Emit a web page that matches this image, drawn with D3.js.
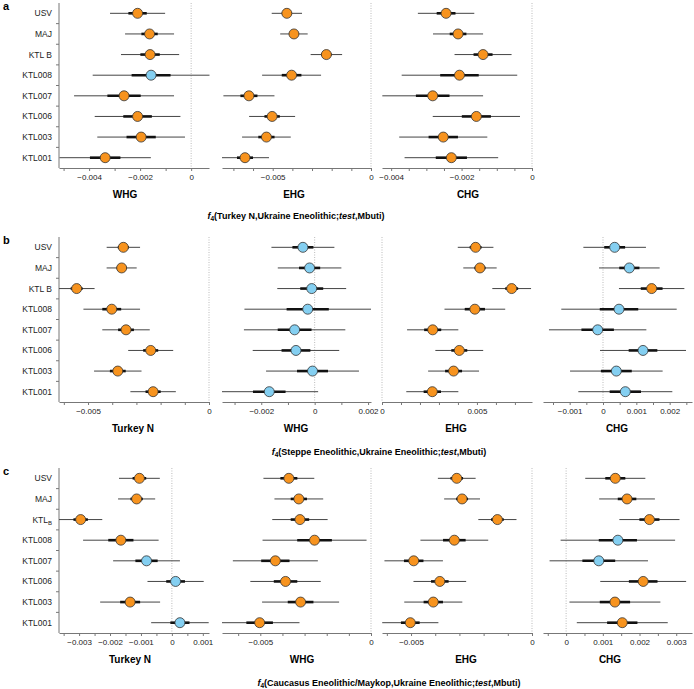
<!DOCTYPE html>
<html>
<head>
<meta charset="utf-8">
<script src="https://cdn.jsdelivr.net/npm/d3@7"></script>
<style>
	body { margin: 0; background: #fff; }
	svg { font-family: 'Liberation Sans', Arial, sans-serif; }
</style>
</head>
<body>
<svg id="chart" width="694" height="689"></svg>
<script>
const svg = d3.select('#chart')
const orange = '#f7931e'
const blue = '#84cff1'
const textColor = '#222'

// data: f4 estimates and standard errors, one array per panel
const samples = ['USV', 'MAJ', 'KTL B', 'KTL008', 'KTL007', 'KTL006', 'KTL003', 'KTL001']
const samplesC = ['USV', 'MAJ', 'KTL_B', 'KTL008', 'KTL007', 'KTL006', 'KTL003', 'KTL001']
const titleRefs = ['Turkey N', 'Steppe Eneolithic', 'Caucasus Eneolithic/Maykop']
const sourcesA = ['WHG', 'EHG', 'CHG']
const sourcesBC = ['Turkey N', 'WHG', 'EHG', 'CHG']

const aWHG = [-0.0021, -0.00163, -0.00161, -0.00157, -0.00263, -0.0021, -0.00196, -0.00337]
const aWHGse = [0.00036, 0.00032, 0.00038, 0.000763, 0.000653, 0.00056, 0.000573, 0.000597]
const aEHG = [-0.00428, -0.00392, -0.00227, -0.00404, -0.00621, -0.00503, -0.00532, -0.00641]
const aEHGse = [0.000257, 0.000233, 0.000267, 0.0005, 0.000433, 0.00039, 0.000413, 0.000407]
const aCHG = [-0.00244, -0.0021, -0.00139, -0.00206, -0.00282, -0.00158, -0.00252, -0.00229]
const aCHGse = [0.000267, 0.000237, 0.00027, 0.000547, 0.000477, 0.000413, 0.000417, 0.000443]

const bTurN = [-0.00354, -0.00361, -0.00547, -0.00402, -0.00343, -0.00241, -0.00377, -0.00231]
const bTurNse = [0.00023, 0.000207, 0.000247, 0.00039, 0.000327, 0.00031, 0.000327, 0.000313]
const bWHG = [-0.00044, -0.00019, -0.00011, -0.00026, -0.00075, -0.0007, -0.00008, -0.0017]
const bWHGse = [0.000393, 0.000397, 0.00043, 0.00079, 0.000633, 0.00054, 0.00058, 0.00061]
const bEHG = [0.00493, 0.00516, 0.00683, 0.00489, 0.00267, 0.00407, 0.00377, 0.00265]
const bEHGse = [0.000313, 0.000293, 0.00034, 0.000533, 0.00045, 0.00042, 0.000447, 0.000457]
const bCHG = [0.00035, 0.00079, 0.00146, 0.00048, -0.00016, 0.0012, 0.0004, 0.00067]
const bCHGse = [0.000313, 0.000303, 0.000327, 0.000577, 0.000487, 0.00043, 0.000463, 0.00047]

const cTurN = [-0.00105, -0.00114, -0.00295, -0.00165, -0.00082, 0.00012, -0.00135, 0.00026]
const cTurNse = [0.00022, 0.0002, 0.000233, 0.000407, 0.00036, 0.000303, 0.000323, 0.00031]
const cWHG = [-0.00371, -0.00326, -0.00321, -0.00255, -0.00432, -0.00386, -0.00318, -0.00503]
const cWHGse = [0.000383, 0.000367, 0.000417, 0.000783, 0.00064, 0.00053, 0.00058, 0.0006]
const cEHG = [-0.00311, -0.00289, -0.00143, -0.00321, -0.00489, -0.00381, -0.00408, -0.00503]
const cEHGse = [0.00026, 0.000247, 0.000263, 0.000467, 0.000403, 0.000363, 0.0004, 0.000387]
const cCHG = [0.00134, 0.00166, 0.00227, 0.00141, 0.00089, 0.0021, 0.00133, 0.00153]
const cCHGse = [0.000273, 0.000253, 0.000273, 0.00052, 0.000447, 0.00039, 0.000413, 0.000413]

// tick labels
const aTicks = [[-0.004, -0.002, 0], [-0.005, 0], [-0.004, -0.002, 0]]
const bTicks = [[-0.005, 0], [-0.002, 0, 0.002], [0, 0.005], [-0.001, 0, 0.001, 0.002]]
const cTicks = [[-0.003, -0.002, -0.001, 0, 0.001], [-0.005, 0], [-0.005, 0], [0, 0.001, 0.002, 0.003]]

// layout
const cols = [[59, 209], [222, 371], [382, 532], [543, 692]]
const rows = [
	{ letter: 'a', top: 3, bottom: 168, labels: samples, sources: sourcesA, ticks: aTicks,
		est: [aWHG, aEHG, aCHG], se: [aWHGse, aEHGse, aCHGse],
		domains: [[-0.00518, 0.0007], [-0.00758, 0], [-0.00426, 0]],
		minor: [0.001, 0.001, 0.0005],
		labelX: [125, 294, 468], titleX: 296, titleY: 219 },
	{ letter: 'b', top: 237, bottom: 402, labels: samples, sources: sourcesBC, ticks: bTicks,
		est: [bTurN, bWHG, bEHG, bCHG], se: [bTurNse, bWHGse, bEHGse, bCHGse],
		domains: [[-0.0062, 0], [-0.00347, 0.00211], [0, 0.0079], [-0.0018, 0.00267]],
		minor: [0.001, 0.001, 0.001, 0.0005],
		labelX: [133, 296, 456, 617], titleX: 379, titleY: 455 },
	{ letter: 'c', top: 468, bottom: 633, labels: samplesC, sources: sourcesBC, ticks: cTicks,
		est: [cTurN, cWHG, cEHG, cCHG], se: [cTurNse, cWHGse, cEHGse, cCHGse],
		domains: [[-0.00365, 0.0012], [-0.00673, 0], [-0.0062, 0], [-0.00063, 0.00343]],
		minor: [0.0005, 0.001, 0.001, 0.0005],
		labelX: [130, 302, 466, 610], titleX: 389, titleY: 686 }
]

const fmt = d => d === 0 ? '0' : d3.format('.3~f')(d)

rows.forEach((r, ri) => {
	const g = svg.append('g')

	const yScale = d3.scaleBand()
		.domain(d3.range(8))
		.range([r.top, r.bottom])

	// panel letter
	g.append('text')
		.text(r.letter)
		.attr('x', 3)
		.attr('y', r.top + 7)
		.style('font-size', '11px')
		.style('font-weight', '700')

	// y axis with ticks between the rows
	g.append('line')
		.attr('x1', cols[0][0]).attr('x2', cols[0][0])
		.attr('y1', r.top).attr('y2', r.bottom)
		.style('stroke', '#777')
	d3.range(1, 8).forEach(i => {
		g.append('line')
			.attr('x1', cols[0][0] - 3).attr('x2', cols[0][0])
			.attr('y1', r.top + i * yScale.step()).attr('y2', r.top + i * yScale.step())
			.style('stroke', '#777')
	})

	const rowLabels = g.selectAll('text.rowlab')
		.data(r.labels)
		.enter()
		.append('text')
			.attr('class', 'rowlab')
			.attr('x', cols[0][0] - 7)
			.attr('y', (d, i) => yScale(i) + yScale.bandwidth() / 2 + 3)
			.attr('text-anchor', 'end')
			.style('font-size', '8.5px')
			.style('fill', textColor)
	rowLabels.each(function(d) {
		const t = d3.select(this)
		if (d.includes('_')) {
			const parts = d.split('_')
			t.append('tspan').text(parts[0])
			t.append('tspan').text(parts[1]).attr('dy', 2).style('font-size', '6px')
		} else {
			t.text(d)
		}
	})

	r.sources.forEach((src, ci) => {
		const xScale = d3.scaleLinear()
			.domain(r.domains[ci])
			.range(cols[ci])

		// dotted zero line
		g.append('line')
			.attr('x1', xScale(0)).attr('x2', xScale(0))
			.attr('y1', r.top).attr('y2', r.bottom)
			.style('stroke', '#bbb')
			.style('stroke-dasharray', '1,1.5')

		// x axis: minor ticks, then labelled ticks
		const dom = r.domains[ci]
		const minorTicks = d3.range(Math.ceil(dom[0] / r.minor[ci] - 1e-6), Math.floor(dom[1] / r.minor[ci] + 1e-6) + 1)
			.map(k => k * r.minor[ci])
		const axis = d3.axisBottom(xScale)
			.tickValues(minorTicks)
			.tickSize(3)
			.tickSizeOuter(0)
			.tickFormat(d => r.ticks[ci].some(t => Math.abs(t - d) < 1e-9) ? fmt(d) : '')
		const ax = g.append('g')
			.attr('transform', `translate(0, ${r.bottom})`)
			.call(axis)
		ax.select('path.domain').style('stroke', '#777')
		ax.selectAll('.tick line').style('stroke', '#777')
		ax.selectAll('.tick text')
			.attr('y', 6)
			.style('font-size', '8px')
			.style('font-family', "'Liberation Sans', Arial, sans-serif")
			.style('fill', textColor)

		g.append('text')
			.text(src)
			.attr('x', r.labelX[ci])
			.attr('y', r.bottom + 30)
			.attr('text-anchor', 'middle')
			.style('font-size', '10px')
			.style('font-weight', '700')

		const pts = r.est[ci].map((e, i) => ({ i: i, est: e, se: r.se[ci][i] }))

		const marks = g.selectAll(`g.mark${ri}${ci}`)
			.data(pts)
			.enter()
			.append('g')
				.attr('class', `mark${ri}${ci}`)
				.attr('transform', d => `translate(0, ${yScale(d.i) + yScale.bandwidth() / 2})`)

		marks.append('line')
			.attr('x1', d => Math.max(cols[ci][0], xScale(d.est - 3 * d.se)))
			.attr('x2', d => xScale(d.est + 3 * d.se))
			.style('stroke', '#444')
			.style('stroke-width', 1)

		marks.append('line')
			.attr('x1', d => xScale(d.est - d.se))
			.attr('x2', d => xScale(d.est + d.se))
			.style('stroke', '#111')
			.style('stroke-width', 2.6)

		// blue when the +-3 SE interval overlaps zero
		marks.append('circle')
			.attr('cx', d => xScale(d.est))
			.attr('cy', 0)
			.attr('r', 5)
			.attr('fill', d => (d.est - 3 * d.se > 0 || d.est + 3 * d.se < 0) ? orange : blue)
			.style('stroke', '#333')
			.style('stroke-width', 0.8)
	})

	// f4 title
	const title = g.append('text')
		.attr('x', r.titleX)
		.attr('y', r.titleY)
		.attr('text-anchor', 'middle')
		.style('font-size', '9px')
		.style('font-weight', '700')
	title.append('tspan').text('f').style('font-style', 'italic')
	title.append('tspan').text('4').attr('dy', 2).style('font-size', '6.5px')
	title.append('tspan').text(`(${titleRefs[ri]},Ukraine Eneolithic;`).attr('dy', -2)
	title.append('tspan').text('test').style('font-style', 'italic')
	title.append('tspan').text(',Mbuti)')
})
</script>
</body>
</html>
